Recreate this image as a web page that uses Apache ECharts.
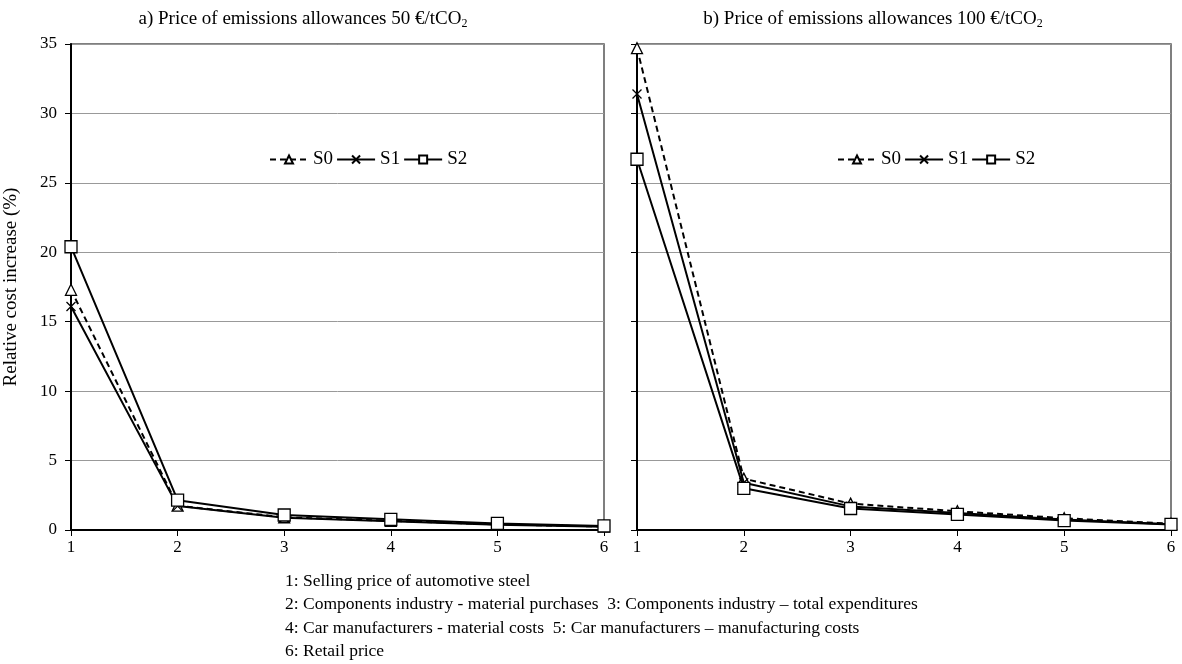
<!DOCTYPE html>
<html>
<head>
<meta charset="utf-8">
<script src="https://cdn.jsdelivr.net/npm/echarts@6/dist/echarts.min.js"></script>
<style>
html,body{margin:0;padding:0;background:#fff;}
#main{width:1182px;height:664px;}
</style>
</head>
<body>
<div id="main"></div>
<script>
var categories = [1, 2, 3, 4, 5, 6];
var seriesNames = ['S0', 'S1', 'S2'];
var yTicks = [0, 5, 10, 15, 20, 25, 30, 35];

// a) 50 €/tCO2
var a_S0 = [17.3, 1.75, 0.92, 0.66, 0.40, 0.25];
var a_S1 = [16.1, 1.72, 0.88, 0.63, 0.38, 0.24];
var a_S2 = [20.4, 2.15, 1.08, 0.77, 0.47, 0.29];
// b) 100 €/tCO2
var b_S0 = [34.7, 3.7, 1.9, 1.35, 0.85, 0.45];
var b_S1 = [31.4, 3.4, 1.7, 1.22, 0.76, 0.42];
var b_S2 = [26.7, 3.0, 1.55, 1.12, 0.68, 0.40];

var titleA = 'a) Price of emissions allowances 50 €/tCO';
var titleB = 'b) Price of emissions allowances 100 €/tCO';
var yName = 'Relative cost increase (%)';
var notes = [
  '1: Selling price of automotive steel',
  '2: Components industry - material purchases  3: Components industry \u2013 total expenditures',
  '4: Car manufacturers - material costs  5: Car manufacturers \u2013 manufacturing costs',
  '6: Retail price'
];

var FONT = '"Liberation Serif", "Times New Roman", serif';
var crossPath = 'path://M0,0L10,10M10,0L0,10';

function pairs(vals) { return categories.map(function (c, i) { return [c, vals[i]]; }); }

function mkSeries(name, vals, idx) {
  var sym = name === 'S0' ? 'triangle' : (name === 'S1' ? crossPath : 'rect');
  return {
    name: name, type: 'line', xAxisIndex: idx, yAxisIndex: idx,
    data: pairs(vals),
    symbol: sym, symbolSize: name === 'S1' ? 9 : (name === 'S0' ? 11 : 12),
    showAllSymbol: true,
    lineStyle: { color: '#000', width: 2, type: name === 'S0' ? [6, 4] : 'solid' },
    itemStyle: { color: '#fff', borderColor: '#000', borderWidth: 1.3 },
    z: name === 'S2' ? 4 : (name === 'S1' ? 3 : 2),
    animation: false
  };
}

function mkX(idx) {
  return {
    type: 'value', gridIndex: idx, min: 1, max: 6, interval: 1,
    axisLine: { show: true, onZero: false, lineStyle: { color: '#000', width: 2 } },
    axisTick: { show: true, length: 6, lineStyle: { color: '#000', width: 1 } },
    axisLabel: { color: '#000', fontFamily: FONT, fontSize: 17, margin: 9 },
    splitLine: { show: false }
  };
}
function mkY(idx) {
  return {
    type: 'value', gridIndex: idx, min: yTicks[0], max: yTicks[yTicks.length - 1], interval: 5,
    axisLine: { show: true, lineStyle: { color: '#000', width: 2 } },
    axisTick: { show: true, length: 6, lineStyle: { color: '#000', width: 1 } },
    axisLabel: { show: idx === 0, color: '#000', fontFamily: FONT, fontSize: 17, margin: 14 },
    splitLine: { show: true, lineStyle: { color: '#999', width: 1 } },
    name: idx === 0 ? yName : '', nameLocation: 'middle', nameGap: 50, nameRotate: 90,
    nameTextStyle: { color: '#000', fontFamily: FONT, fontSize: 19 }
  };
}

var rich = { sub: { fontSize: 12, fontFamily: FONT, color: '#000', padding: [10, 0, 0, 0] } };

var chart = echarts.init(document.getElementById('main'), null, { renderer: 'canvas' });
chart.setOption({
  animation: false,
  backgroundColor: '#fff',
  title: [
    { text: titleA + '{sub|2}', left: 298, top: 3, textAlign: 'center',
      textStyle: { fontFamily: FONT, fontSize: 19, fontWeight: 'normal', color: '#000', rich: rich } },
    { text: titleB + '{sub|2}', left: 868, top: 3, textAlign: 'center',
      textStyle: { fontFamily: FONT, fontSize: 19, fontWeight: 'normal', color: '#000', rich: rich } }
  ],
  legend: [
    { data: seriesNames, left: 264, top: 145, itemWidth: 38, itemHeight: 10, itemGap: 3,
      textStyle: { fontFamily: FONT, fontSize: 19, color: '#000' } },
    { data: seriesNames, left: 832, top: 145, itemWidth: 38, itemHeight: 10, itemGap: 3,
      textStyle: { fontFamily: FONT, fontSize: 19, color: '#000' } }
  ],
  grid: [
    { left: 71, right: 1182 - 604, top: 44, bottom: 664 - 530, show: true, borderColor: '#555', borderWidth: 1.5, backgroundColor: 'transparent' },
    { left: 637, right: 1182 - 1171, top: 44, bottom: 664 - 530, show: true, borderColor: '#555', borderWidth: 1.5, backgroundColor: 'transparent' }
  ],
  xAxis: [mkX(0), mkX(1)],
  yAxis: [mkY(0), mkY(1)],
  series: [
    mkSeries('S0', a_S0, 0), mkSeries('S1', a_S1, 0), mkSeries('S2', a_S2, 0),
    mkSeries('S0', b_S0, 1), mkSeries('S1', b_S1, 1), mkSeries('S2', b_S2, 1)
  ],
  graphic: notes.map(function (t, i) {
    return { type: 'text', left: 285, top: 572 + i * 23.5,
      style: { text: t, fontFamily: FONT, fontSize: 17.5, fill: '#000' } };
  })
});
</script>
</body>
</html>
